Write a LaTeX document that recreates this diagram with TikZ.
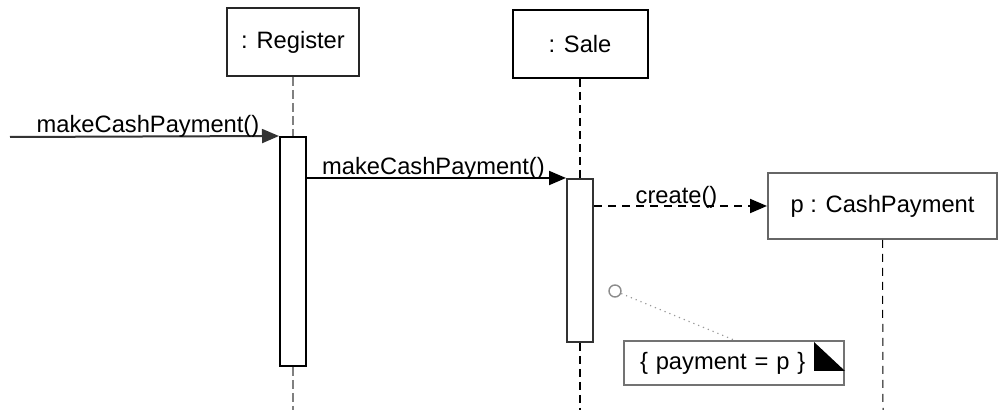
\documentclass[tikz,border=0pt]{standalone}
\usepackage{fontspec}
\setmainfont{Liberation Sans}
\usetikzlibrary{arrows.meta}
\newcommand{\dfs}{\fontsize{11.85pt}{14pt}\selectfont}
\tikzset{
  obj/.style={draw, line width=1pt, fill=white, inner sep=0pt, font=\dfs},
  actbox/.style={draw, line width=1pt, fill=white, inner sep=0pt, minimum width=13pt},
  msg/.style={line width=1pt, -{Triangle[length=8.5pt,width=7pt]}},
  lbl/.style={font=\dfs, inner sep=0pt, anchor=base},
  lifereg/.style={draw=black!50, line width=1.2pt, dash pattern=on 4.5pt off 2pt},
  lifesale/.style={draw=black, line width=0.8pt, dash pattern=on 4pt off 2.5pt},
  lifecp/.style={draw=black, line width=0.5pt, dash pattern=on 4pt off 3pt},
}
\begin{document}
\begin{tikzpicture}[x=0.5pt,y=-0.5pt]
\useasboundingbox (0,0) rectangle (1002,410);
% objects
\node[obj, draw=black!85, minimum width=66pt, minimum height=34pt] (reg) at (293,42) {: Register};
\node[obj, minimum width=67.5pt, minimum height=34pt] (sale) at (580,44) {: Sale};
\node[obj, draw=black!60, minimum width=114.5pt, minimum height=33pt] (cp) at (882.5,206) {p : CashPayment};
% lifeline ends
\coordinate (regend) at (293,410);
\coordinate (saleend) at (580,410);
\coordinate (cpend) at (883,410);
\coordinate (start) at (10,137);
% activations
\node[actbox, minimum height=114.5pt] (ract) at (293,251.5) {};
\node[actbox, draw=black!80, minimum height=81.5pt] (sact) at (580,260.5) {};
% lifelines
\draw[lifereg] (reg.south) -- (ract.north);
\draw[lifereg] (ract.south) -- (regend);
\draw[lifesale] (sale.south) -- (sact.north);
\draw[lifesale] (sact.south) -- (saleend);
\draw[lifecp] (cp.south) -- (cpend);
% messages
\draw[msg, draw=black!80] (start) -- node[lbl, xshift=1.75pt, yshift=1.8pt] {makeCashPayment()} (ract.north west);
\draw[msg] (ract.east |- sact.north) -- node[lbl, xshift=-1.5pt, yshift=1.5pt] {makeCashPayment()} (sact.north west);
\draw[msg, dash pattern=on 4pt off 3pt] (sact.east |- cp.west) -- node[lbl, xshift=-2pt, yshift=1.2pt] {create()} (cp.west);
% note
\node[obj, draw=black!55, anchor=north west, minimum height=22pt, text width=110pt, align=left] (note) at (623,340) {\hspace*{8pt}\{ payment = p \}};
\fill[black] ([shift={(-31,2)}]note.north east) -- ([shift={(-31,31)}]note.north east) -- ([shift={(0,31)}]note.north east) -- cycle;
\node[circle, draw=black!45, line width=0.7pt, minimum size=6pt, inner sep=0pt] (anc) at (615,291) {};
\draw[black!40, line width=0.6pt, dotted] (anc) -- (note.north);
\end{tikzpicture}
\end{document}
